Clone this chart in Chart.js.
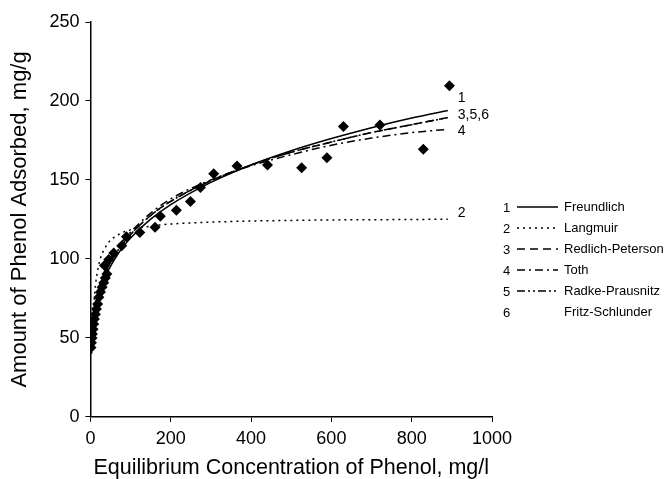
<!DOCTYPE html>
<html lang="en">
<head>
    <meta charset="UTF-8">
    <title>Phenol Adsorption Isotherms</title>
    <script src="https://cdn.jsdelivr.net/npm/chart.js"></script>
    <style>
        * { margin: 0; padding: 0; box-sizing: border-box; }
        body { background: #fff; width: 666px; height: 479px; overflow: hidden; }
        .chart-box { position: relative; width: 666px; height: 479px; }
    </style>
</head>
<body>
    <div class="chart-box">
        <canvas id="isoChart" width="666" height="479"></canvas>
    </div>

    <script>
        // ============= DATA =============
        // experimental points (mg/l, mg/g)
        const expConc = [1.5, 2.5, 4, 5, 6.5, 8.3, 10, 12.4, 15, 18, 21, 25, 29, 33, 37, 41,
                         35, 45.6, 58, 78, 89.6, 123, 161, 174, 214, 249, 274, 307, 365, 441,
                         526, 589, 630, 721, 829, 894];
        const expQ = [44, 47, 50, 52.5, 55.5, 58.8, 62, 65, 68.3, 71.5, 75.7, 79, 82, 85, 88, 90.5,
                      95.8, 99.6, 103.8, 108.3, 114, 116.8, 120.1, 127, 130.9, 136.4, 145.3, 154, 158.8, 159.5,
                      157.8, 164.1, 183.8, 184.8, 169.4, 209.6];

        // model curves
        const curveConc = [2, 5, 10, 20, 40, 70, 100, 150, 200, 300, 400, 500, 600, 700, 800, 890];
        const freundlich = [43.1, 54.0, 64.1, 76.1, 90.3, 103.7, 113.2, 125.2, 134.4, 148.5, 159.5, 168.5, 176.2, 183.1, 189.2, 194];
        const redlichPeterson = [45, 56, 66.5, 79, 93, 106, 115.5, 127.5, 136.5, 149.5, 159.5, 167.5, 174, 180, 185, 189.5];
        const toth = [46, 58, 69, 81, 95, 108, 117, 129, 138, 150, 159, 166, 172, 176.5, 180, 182];
        const radkePrausnitz = [45, 56, 66.5, 79, 93, 106, 115.5, 127.5, 136.5, 149.5, 159.5, 167.5, 174, 180, 185, 189.5];

        const langmuirConc = [3, 5, 10, 20, 40, 70, 100, 150, 200, 300, 400, 500, 600, 700, 800, 890];
        const langmuir = [40, 55, 76.6, 95.3, 108.5, 115.4, 118.4, 120.8, 122.1, 123.3, 124, 124.4, 124.7, 124.8, 125, 125.1];

        const xTicks = [0, 200, 400, 600, 800, 1000];
        const yTicks = [0, 50, 100, 150, 200, 250];

        const legendNums = ['1', '2', '3', '4', '5', '6'];
        const legendNames = ['Freundlich', 'Langmuir', 'Redlich-Peterson', 'Toth', 'Radke-Prausnitz', 'Fritz-Schlunder'];
        const legendDashes = [[], [2, 4], [8, 5], [8, 4, 2, 4], [8, 3, 2, 3, 2, 3], null];
        // =================================

        const FONT = 'Arial, "Liberation Sans", sans-serif';

        function pairs(xs, ys) {
            return xs.map((x, i) => ({ x: x, y: ys[i] }));
        }

        function curve(label, xs, ys, dash) {
            return {
                type: 'line',
                label: label,
                data: pairs(xs, ys),
                borderColor: '#000',
                borderWidth: 1.5,
                borderDash: dash,
                pointRadius: 0,
                fill: false,
                cubicInterpolationMode: 'monotone'
            };
        }

        // draws the right-hand legend and the end-of-curve numbers
        const annotations = {
            id: 'annotations',
            afterDraw(chart) {
                const ctx = chart.ctx;
                const xs = chart.scales.x, ys = chart.scales.y;
                ctx.save();
                ctx.fillStyle = '#000';
                ctx.strokeStyle = '#000';
                ctx.font = '14px ' + FONT;
                ctx.textBaseline = 'middle';

                // curve end labels
                const endX = xs.getPixelForValue(curveConc[curveConc.length - 1]) + 10;
                const last = a => ys.getPixelForValue(a[a.length - 1]);
                ctx.fillText('1', endX, last(freundlich) - 12);
                ctx.fillText('3,5,6', endX, last(redlichPeterson) - 2);
                ctx.fillText('4', endX, last(toth) + 2);
                ctx.fillText('2', endX, last(langmuir) - 6);

                // legend
                const top = 207, step = 21;
                ctx.font = '13px ' + FONT;
                legendNames.forEach((name, i) => {
                    const y = top + i * step;
                    ctx.fillText(legendNums[i], 503, y + 1);
                    if (legendDashes[i]) {
                        ctx.beginPath();
                        ctx.setLineDash(legendDashes[i]);
                        ctx.lineWidth = 1.5;
                        ctx.moveTo(517, y);
                        ctx.lineTo(558, y);
                        ctx.stroke();
                    }
                    ctx.setLineDash([]);
                    ctx.fillText(name, 564, y);
                });
                ctx.restore();
            }
        };

        new Chart(document.getElementById('isoChart'), {
            type: 'scatter',
            data: {
                datasets: [
                    {
                        label: 'Experimental',
                        data: pairs(expConc, expQ),
                        pointStyle: 'rectRot',
                        pointRadius: 5.5,
                        backgroundColor: '#000',
                        borderColor: '#000',
                        borderWidth: 0
                    },
                    curve('Freundlich', curveConc, freundlich, []),
                    curve('Langmuir', langmuirConc, langmuir, [2, 4]),
                    curve('Redlich-Peterson', curveConc, redlichPeterson, [8, 5]),
                    curve('Toth', curveConc, toth, [8, 4, 2, 4]),
                    curve('Radke-Prausnitz', curveConc, radkePrausnitz, [8, 3, 2, 3, 2, 3])
                ]
            },
            options: {
                responsive: false,
                animation: false,
                devicePixelRatio: 1,
                layout: { padding: { top: 22, right: 174, bottom: 0, left: 7 } },
                plugins: { legend: { display: false }, tooltip: { enabled: false } },
                scales: {
                    x: {
                        type: 'linear',
                        min: 0, max: 1000,
                        afterBuildTicks: s => { s.ticks = xTicks.map(v => ({ value: v })); },
                        grid: { drawOnChartArea: false, drawTicks: true, tickLength: 5, color: '#000' },
                        border: { color: '#000', width: 1.5 },
                        ticks: { color: '#000', font: { family: FONT, size: 18 }, padding: 6, maxRotation: 0,
                                 callback: v => String(v) },
                        title: { display: true, text: 'Equilibrium Concentration of Phenol, mg/l', color: '#000',
                                 font: { family: FONT, size: 21.5, lineHeight: 1 }, padding: { top: 2, bottom: 0 } }
                    },
                    y: {
                        type: 'linear',
                        min: 0, max: 250,
                        afterBuildTicks: s => { s.ticks = yTicks.map(v => ({ value: v })); },
                        grid: { drawOnChartArea: false, drawTicks: true, tickLength: 5, color: '#000' },
                        border: { color: '#000', width: 1.5 },
                        ticks: { color: '#000', font: { family: FONT, size: 18 }, padding: 6,
                                 callback: v => String(v) },
                        title: { display: true, text: 'Amount of Phenol Adsorbed, mg/g', color: '#000',
                                 font: { family: FONT, size: 22 }, padding: { top: 0, bottom: 10 } }
                    }
                }
            },
            plugins: [annotations]
        });
    </script>
</body>
</html>
